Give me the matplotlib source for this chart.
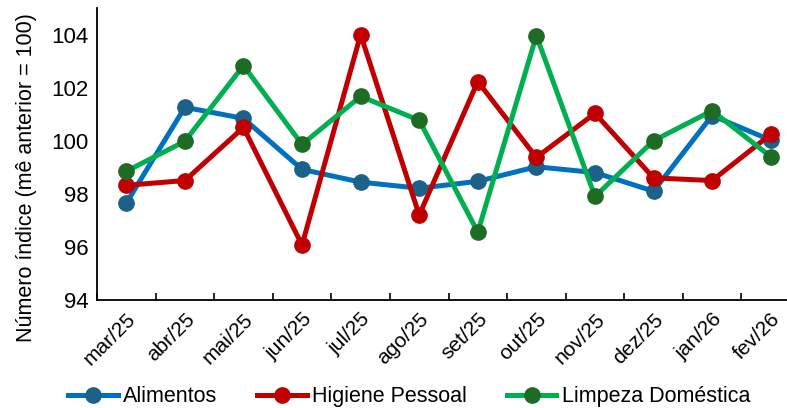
import matplotlib
matplotlib.use("Agg")
import matplotlib.pyplot as plt

plt.rcParams['font.family'] = ['Liberation Sans', 'DejaVu Sans']

meses = ['mar/25', 'abr/25', 'mai/25', 'jun/25', 'jul/25', 'ago/25',
         'set/25', 'out/25', 'nov/25', 'dez/25', 'jan/26', 'fev/26']
alimentos = [97.65, 101.26, 100.84, 98.92, 98.44, 98.21,
             98.47, 99.02, 98.8, 98.1, 100.95, 100.02]
higiene = [98.32, 98.5, 100.5, 96.07, 104.0, 97.2,
           102.23, 99.37, 101.03, 98.6, 98.5, 100.24]
limpeza = [98.85, 99.98, 102.83, 99.86, 101.67, 100.77,
           96.56, 103.96, 97.9, 100.0, 101.13, 99.4]

fig = plt.figure(figsize=(7.87, 4.08), dpi=100)
ax = fig.add_axes([97/787, 1-300/408, 703/787, 292/408])

x = list(range(len(meses)))
ax.plot(x, alimentos, color='#0070C0', lw=3.6, marker='o', ms=11,
        mfc='#1B6189', mec='#1B6189', label='Alimentos', zorder=3)
ax.plot(x, higiene, color='#C00000', lw=3.6, marker='o', ms=11,
        mfc='#C00000', mec='#C00000', label='Higiene Pessoal', zorder=4)
ax.plot(x, limpeza, color='#00B050', lw=3.6, marker='o', ms=11,
        mfc='#1E6B24', mec='#1E6B24', label='Limpeza Doméstica', zorder=5)

ax.set_xlim(-0.5, 11.5)
ax.set_ylim(94, 105)
ax.set_yticks([94, 96, 98, 100, 102, 104])
ax.set_xticks(x)
ax.set_xticklabels(meses, rotation=45, ha='right', va='top',
                   rotation_mode='anchor', fontsize=15)
ax.set_xticks([i + 0.5 for i in range(-1, 12)], minor=True)
ax.tick_params(axis='x', which='major', length=0, pad=7)
ax.tick_params(axis='x', which='minor', direction='in', length=5, width=1.2)
ax.tick_params(axis='y', length=0, labelsize=16, pad=6)

for s in ['top', 'right']:
    ax.spines[s].set_visible(False)
for s in ['left', 'bottom']:
    ax.spines[s].set_linewidth(1.3)

ax.set_ylabel('Número índice (mê anterior = 100)', fontsize=15.5)
ax.yaxis.set_label_coords(-0.085, 0.42)

fig.legend(loc='center', bbox_to_anchor=(0.52, 0.027), ncol=3, frameon=False,
           fontsize=15.5, handlelength=2.3, columnspacing=1.85, handletextpad=0.25)

fig.savefig('out.png', dpi=100, facecolor='white')
